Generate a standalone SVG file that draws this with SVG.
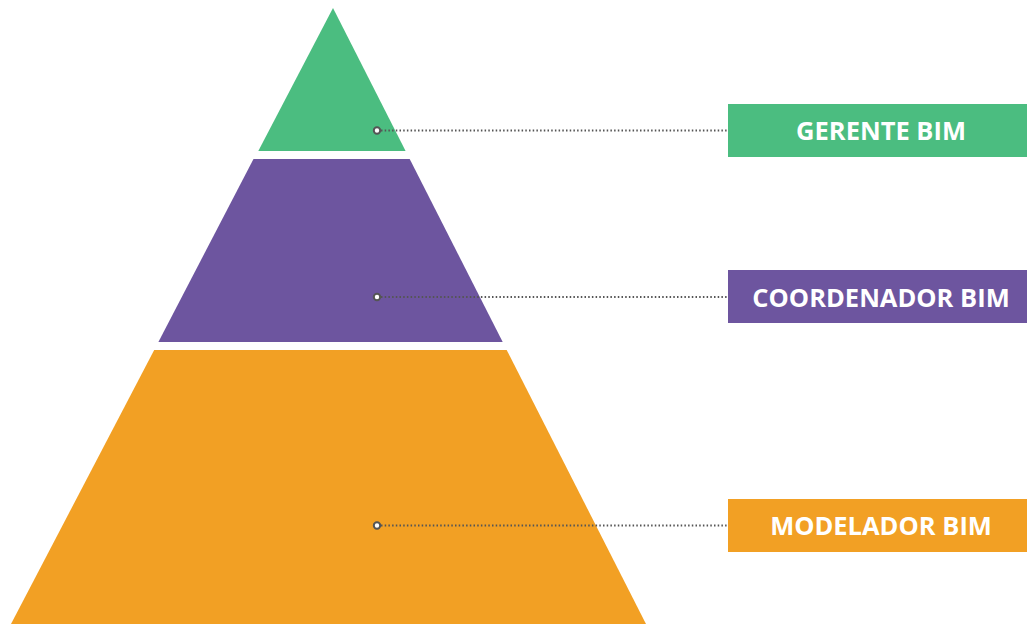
<svg xmlns="http://www.w3.org/2000/svg" width="1027" height="624" viewBox="0 0 1027 624">
  <style>
    .green { fill: #4bbd80; }
    .purple { fill: #6d559f; }
    .orange { fill: #f2a024; }
    .label { font-family: "Open Sans", "Liberation Sans", sans-serif; font-weight: 700; font-size: 25.5px; fill: #ffffff; text-anchor: middle; }
    .leader { stroke: #555555; stroke-width: 2; stroke-dasharray: 1.5 2.2; fill: none; }
    .dot { fill: #ffffff; stroke: #555555; stroke-width: 2; }
  </style>
  <rect width="1027" height="624" fill="#ffffff"/>

  <!-- pyramid tiers -->
  <g id="tier-gerente">
    <polygon class="green" points="333,8 258.3,151 405.6,151"/>
  </g>
  <g id="tier-coordenador">
    <polygon class="purple" points="253.5,159 409.7,159 502.7,342 158.4,342"/>
  </g>
  <g id="tier-modelador">
    <polygon class="orange" points="154.2,350 506.7,350 646,624 11,624"/>
  </g>

  <!-- leader lines from tiers to labels -->
  <g id="connectors">
    <line class="leader" x1="381" y1="130.5" x2="728" y2="130.5"/>
    <line class="leader" x1="381" y1="297" x2="728" y2="297"/>
    <line class="leader" x1="381" y1="525.5" x2="728" y2="525.5"/>
    <circle class="dot" cx="377" cy="130.5" r="3.2"/>
    <circle class="dot" cx="377" cy="297" r="3.2"/>
    <circle class="dot" cx="377" cy="525.5" r="3.2"/>
  </g>

  <!-- role labels -->
  <g id="label-gerente">
    <rect class="green" x="728" y="104" width="299" height="53"/>
    <text class="label" x="881" y="140">GERENTE BIM</text>
  </g>
  <g id="label-coordenador">
    <rect class="purple" x="728" y="270" width="299" height="53"/>
    <text class="label" x="881" y="306.5">COORDENADOR BIM</text>
  </g>
  <g id="label-modelador">
    <rect class="orange" x="728" y="499" width="299" height="53"/>
    <text class="label" x="881" y="535">MODELADOR BIM</text>
  </g>
</svg>
